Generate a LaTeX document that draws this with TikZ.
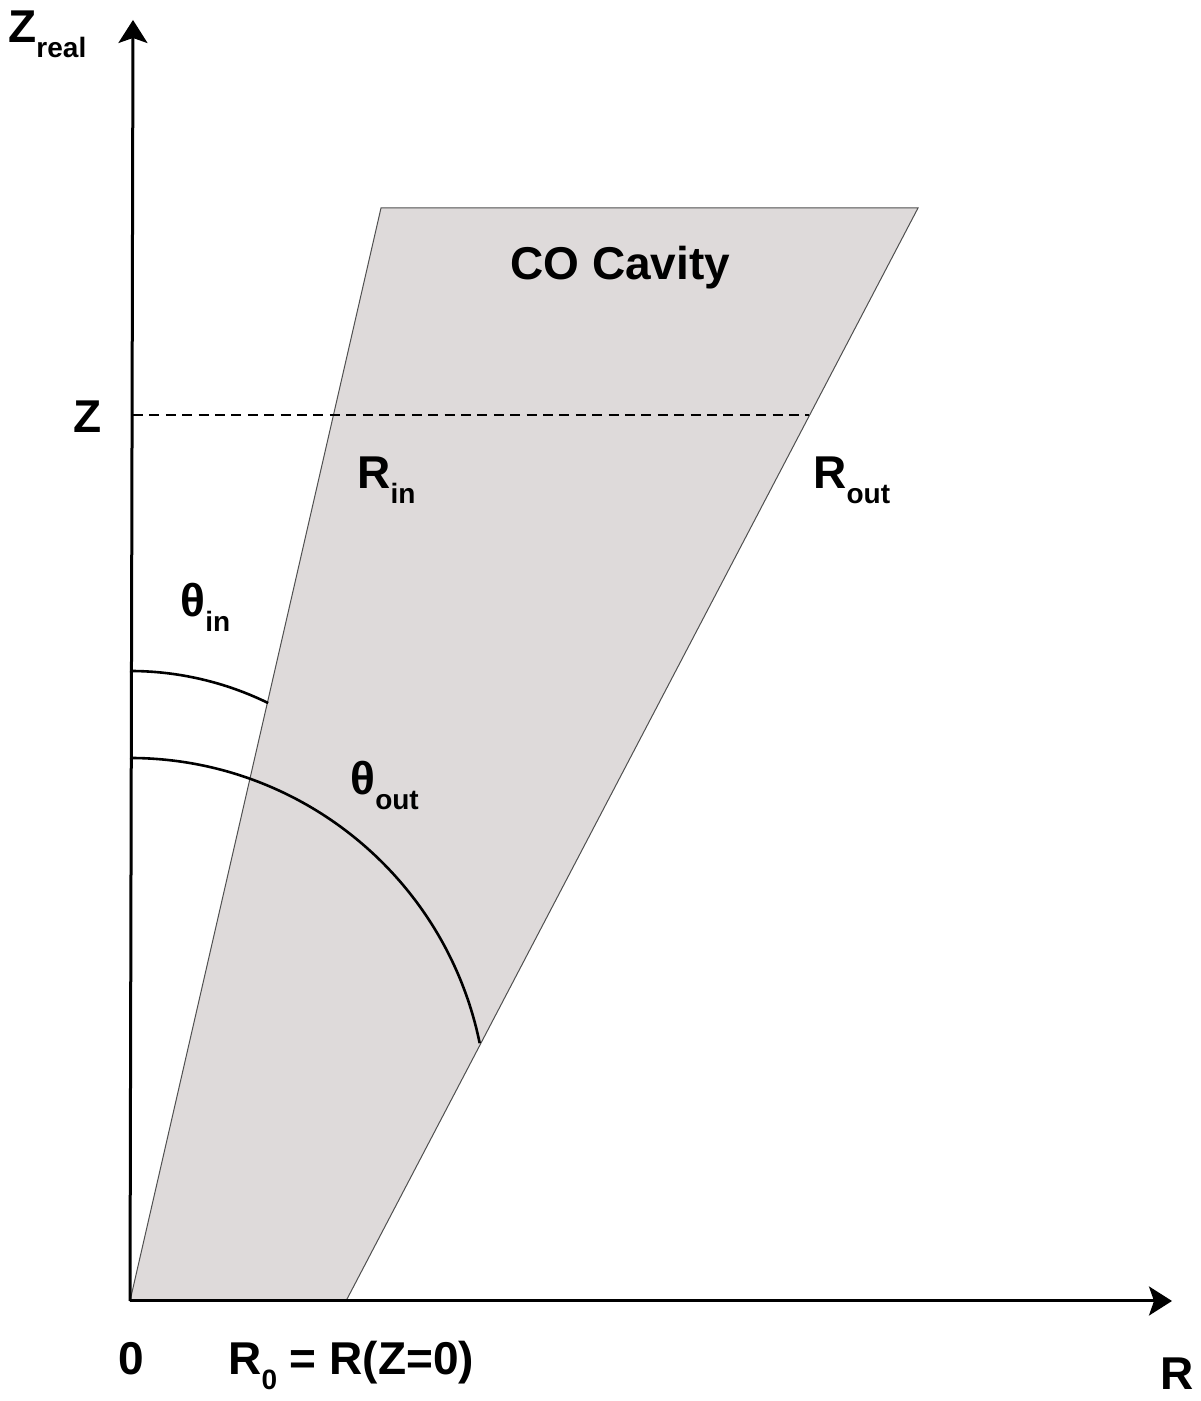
\documentclass[tikz,border=0pt]{standalone}
\usepackage{fontspec}
\setmainfont{Liberation Sans}
\usepackage{xcolor}
\usepackage{tikz}
\usetikzlibrary{arrows.meta, positioning}

\definecolor{cavityfill}{RGB}{222,218,218}
\definecolor{cavityedge}{RGB}{80,80,80}
\newcommand{\lowsub}[1]{\raisebox{-7.5pt}{\fontsize{14}{14}\selectfont #1}}

\begin{document}
\begin{tikzpicture}[
    x=0.5pt, y=0.5pt,
    axis/.style={line width=1.5pt, -{Stealth[length=11.5pt, width=14.5pt, inset=2.5pt]}},
    cavity/.style={fill=cavityfill, draw=cavityedge, line width=0.5pt},
    arcline/.style={line width=1.3pt},
    level/.style={line width=1.2pt, dash pattern=on 5pt off 3.2pt},
    lbl/.style={inner sep=0pt, anchor=base west, font=\fontsize{23}{23}\selectfont\bfseries}
]
    \useasboundingbox (0,0) rectangle (1200,1401);

    \coordinate (origin) at (130,100);
    \coordinate (rzero) at (346,100);
    \coordinate (topin) at (381,1193);
    \coordinate (topout) at (918,1193);
    \coordinate (ztop) at (133,1381);
    \coordinate (rend) at (1172,100);
    \coordinate (zaxis) at (133,986);
    \coordinate (zedge) at (809,986);
    \coordinate (inarc) at (130,730);
    \coordinate (outarc) at (130,643);

    \draw[cavity] (origin) -- (rzero) -- (topout) -- (topin) -- cycle;

    \draw[axis] (origin) -- (ztop);
    \draw[axis] (origin) -- (rend);
    \draw[level] (zaxis) -- (zedge);

    \draw[arcline] (inarc) arc[start angle=90, end angle=63.9, radius=314];
    \draw[arcline] (outarc) arc[start angle=90, end angle=11.6, radius=357];

    \node[lbl] (zreal) at (8,1358) {Z\lowsub{real}};
    \node[lbl] (zlevel) at (73,968) {Z};
    \node[lbl] (rin) at (357,912) {R\lowsub{in}};
    \node[lbl] (rout) at (813,912) {R\lowsub{out}};
    \node[lbl] (thin) at (180,784) {θ\lowsub{in}};
    \node[lbl] (thout) at (350,606) {θ\lowsub{out}};
    \node[lbl] (title) at (510,1121) {CO Cavity};
    \node[lbl] (zero) at (118,26) {0};
    \node[lbl] (rnaught) at (228,26) {R\lowsub{0} = R(Z=0)};
    \node[lbl] (raxis) at (1160,11) {R};
\end{tikzpicture}
\end{document}
